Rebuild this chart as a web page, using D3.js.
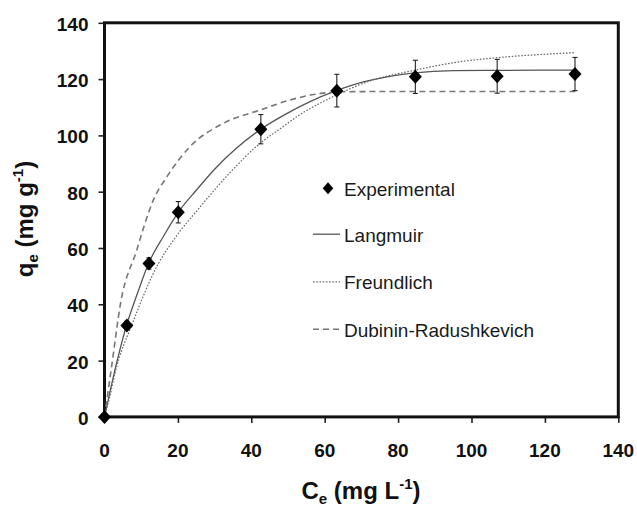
<!DOCTYPE html>
<html>
<head>
<meta charset="utf-8">
<title>Adsorption isotherms</title>
<script src="https://cdn.jsdelivr.net/npm/d3@7"></script>
<style>
	body { margin: 0; background: #fff; }
	svg { display: block; font-family: 'Liberation Sans', Arial, sans-serif; }
	.tick-label { font-size: 19px; font-weight: bold; fill: #111; }
	.axis-title { font-size: 24px; font-weight: bold; fill: #111; }
	.legend-text { font-size: 19px; fill: #1a1a1a; }
</style>
</head>
<body>
<svg id="chart" width="637" height="508"></svg>
<script>
/* jshint esversion:6 */
/* global d3 */

// experimental points
let expC = [0, 6.1, 12.1, 20.1, 42.6, 63.3, 84.7, 107, 128.2],
	expQ = [0, 32.5, 54.5, 72.7, 102.2, 115.9, 120.8, 121, 121.8],
	expErr = [0, 1.5, 2, 3.8, 5.2, 5.8, 5.9, 6, 5.9];

// fitted curves, sampled from the figure
let langC = [0, 3, 6, 9, 12, 16, 20, 25, 30, 36, 42.6, 50, 56, 63, 70, 77, 84.5, 95, 107, 128.2],
	langQ = [0, 17.5, 32.5, 44, 54.5, 64, 72.5, 80.5, 88, 95.5, 102.2, 108, 112, 115.8, 118.8, 120.8, 122.2, 123, 123.1, 123.2];

let freuC = [0, 1.2, 3.3, 7.4, 14.7, 18.8, 26, 34, 42.4, 47.9, 53.3, 63.3, 72, 84.7, 97, 107, 128.3],
	freuQ = [0, 6, 17.8, 32.5, 54.5, 62.8, 74.5, 86.5, 97.2, 102.4, 107.4, 114.4, 119.2, 123.2, 126.2, 127.6, 129.4];

let drC = [0, 2, 4.4, 8.8, 10.6, 13.3, 17, 23.3, 32.4, 42.4, 50.6, 57, 65, 80, 100, 128.3],
	drQ = [0, 18.5, 40.5, 59.3, 67, 77, 85.3, 96, 104.3, 109, 112.6, 114.5, 115.5, 115.6, 115.6, 115.6];

let xTicks = [0, 20, 40, 60, 80, 100, 120, 140],
	yTicks = [0, 20, 40, 60, 80, 100, 120, 140];

let legendLabels = ['Experimental', 'Langmuir', 'Freundlich', 'Dubinin-Radushkevich'];

let svg = d3.select('#chart'),
	x = d3.scaleLinear().domain([0, 140]).range([104.5, 618.3]),
	y = d3.scaleLinear().domain([0, 140]).range([416.9, 22.8]),
	lineStyles = [
		{dash: null, width: 1.3, color: '#555'},
		{dash: '1.6,1.6', width: 1.2, color: '#666'},
		{dash: '6,4', width: 1.6, color: '#777'}
	];

// diamond a touch taller than wide, like the original markers
function diamond(hw, hh) {
	return {
		draw: function(context) {
			context.moveTo(0, -hh);
			context.lineTo(hw, 0);
			context.lineTo(0, hh);
			context.lineTo(-hw, 0);
			context.closePath();
		}
	};
}

function zipPts(cs, qs) {
	return cs.map(function(c, i) { return [c, qs[i]]; });
}

function drawAxes() {
	var g = svg.append('g');

	// x axis ticks below, y axis ticks left
	g.append('g')
		.attr('transform', 'translate(0,' + y(0) + ')')
		.call(d3.axisBottom(x).tickValues(xTicks).tickSize(6).tickFormat(''))
		.call(function(a) {
			a.select('.domain').remove();
			a.selectAll('.tick line').attr('stroke', '#222').attr('stroke-width', 1.6);
		});

	g.append('g')
		.attr('transform', 'translate(' + x(0) + ',0)')
		.call(d3.axisLeft(y).tickValues(yTicks).tickSize(6).tickFormat(''))
		.call(function(a) {
			a.select('.domain').remove();
			a.selectAll('.tick line').attr('stroke', '#222').attr('stroke-width', 1.6);
		});

	g.selectAll('.xl')
		.data(xTicks)
		.enter().append('text')
			.attr('class', 'tick-label')
			.attr('x', function(d) { return x(d); })
			.attr('y', 457)
			.attr('text-anchor', 'middle')
			.text(function(d) { return d; });

	g.selectAll('.yl')
		.data(yTicks)
		.enter().append('text')
			.attr('class', 'tick-label')
			.attr('x', 88.5)
			.attr('y', function(d) { return y(d) + 8; })
			.attr('text-anchor', 'end')
			.text(function(d) { return d; });

	// frame
	g.append('rect')
		.attr('x', x(0))
		.attr('y', y(140))
		.attr('width', x(140) - x(0))
		.attr('height', y(0) - y(140))
		.attr('fill', 'none')
		.attr('stroke', '#111')
		.attr('stroke-width', 3);

	// axis titles
	var xt = svg.append('text')
		.attr('class', 'axis-title')
		.attr('x', 361)
		.attr('y', 499)
		.attr('text-anchor', 'middle');
	xt.append('tspan').text('C');
	xt.append('tspan').attr('dy', 5).attr('font-size', 15).text('e');
	xt.append('tspan').attr('dy', -5).text(' (mg L');
	xt.append('tspan').attr('dy', -10).attr('font-size', 15).text('-1');
	xt.append('tspan').attr('dy', 10).text(')');

	var yt = svg.append('text')
		.attr('class', 'axis-title')
		.attr('transform', 'translate(33,219) rotate(-90)')
		.attr('text-anchor', 'middle');
	yt.append('tspan').text('q');
	yt.append('tspan').attr('dy', 5).attr('font-size', 15).text('e');
	yt.append('tspan').attr('dy', -5).text(' (mg g');
	yt.append('tspan').attr('dy', -10).attr('font-size', 15).text('-1');
	yt.append('tspan').attr('dy', 10).text(')');
}

function drawCurves() {
	var line = d3.line()
			.curve(d3.curveMonotoneX)
			.x(function(d) { return x(d[0]); })
			.y(function(d) { return y(d[1]); }),
		curves = [zipPts(langC, langQ), zipPts(freuC, freuQ), zipPts(drC, drQ)];

	svg.append('g').selectAll('path')
		.data(curves)
		.enter().append('path')
			.attr('d', line)
			.attr('fill', 'none')
			.attr('stroke', function(d, i) { return lineStyles[i].color; })
			.attr('stroke-width', function(d, i) { return lineStyles[i].width; })
			.attr('stroke-dasharray', function(d, i) { return lineStyles[i].dash; });
}

function drawPoints() {
	var pts = expC.map(function(c, i) { return {c: c, q: expQ[i], e: expErr[i]}; }),
		g = svg.append('g'),
		bars = g.selectAll('.err')
			.data(pts.filter(function(d) { return d.e > 0; }))
			.enter().append('g')
				.attr('class', 'err')
				.attr('stroke', '#222')
				.attr('stroke-width', 1.1);

	bars.append('line')
		.attr('x1', function(d) { return x(d.c); })
		.attr('x2', function(d) { return x(d.c); })
		.attr('y1', function(d) { return y(d.q + d.e); })
		.attr('y2', function(d) { return y(d.q - d.e); });

	[1, -1].forEach(function(s) {
		bars.append('line')
			.attr('x1', function(d) { return x(d.c) - 2.5; })
			.attr('x2', function(d) { return x(d.c) + 2.5; })
			.attr('y1', function(d) { return y(d.q + s * d.e); })
			.attr('y2', function(d) { return y(d.q + s * d.e); });
	});

	g.selectAll('.pt')
		.data(pts)
		.enter().append('path')
			.attr('class', 'pt')
			.attr('transform', function(d) { return 'translate(' + x(d.c) + ',' + y(d.q) + ')'; })
			.attr('d', d3.symbol().type(diamond(6.5, 7)))
			.attr('fill', '#000');
}

function drawLegend() {
	var g = svg.append('g'),
		rows = [195.7, 241.7, 289.3, 336.7];

	g.append('path')
		.attr('transform', 'translate(328,' + (rows[0] - 7.5) + ')')
		.attr('d', d3.symbol().type(diamond(5.3, 6)))
		.attr('fill', '#000');

	lineStyles.forEach(function(st, i) {
		g.append('line')
			.attr('x1', 313)
			.attr('x2', 340)
			.attr('y1', rows[i + 1] - 7.5)
			.attr('y2', rows[i + 1] - 7.5)
			.attr('stroke', st.color)
			.attr('stroke-width', st.width)
			.attr('stroke-dasharray', st.dash);
	});

	g.selectAll('text')
		.data(legendLabels)
		.enter().append('text')
			.attr('class', 'legend-text')
			.attr('x', 344)
			.attr('y', function(d, i) { return rows[i]; })
			.text(function(d) { return d; });
}

drawAxes();
drawCurves();
drawPoints();
drawLegend();
</script>
</body>
</html>
